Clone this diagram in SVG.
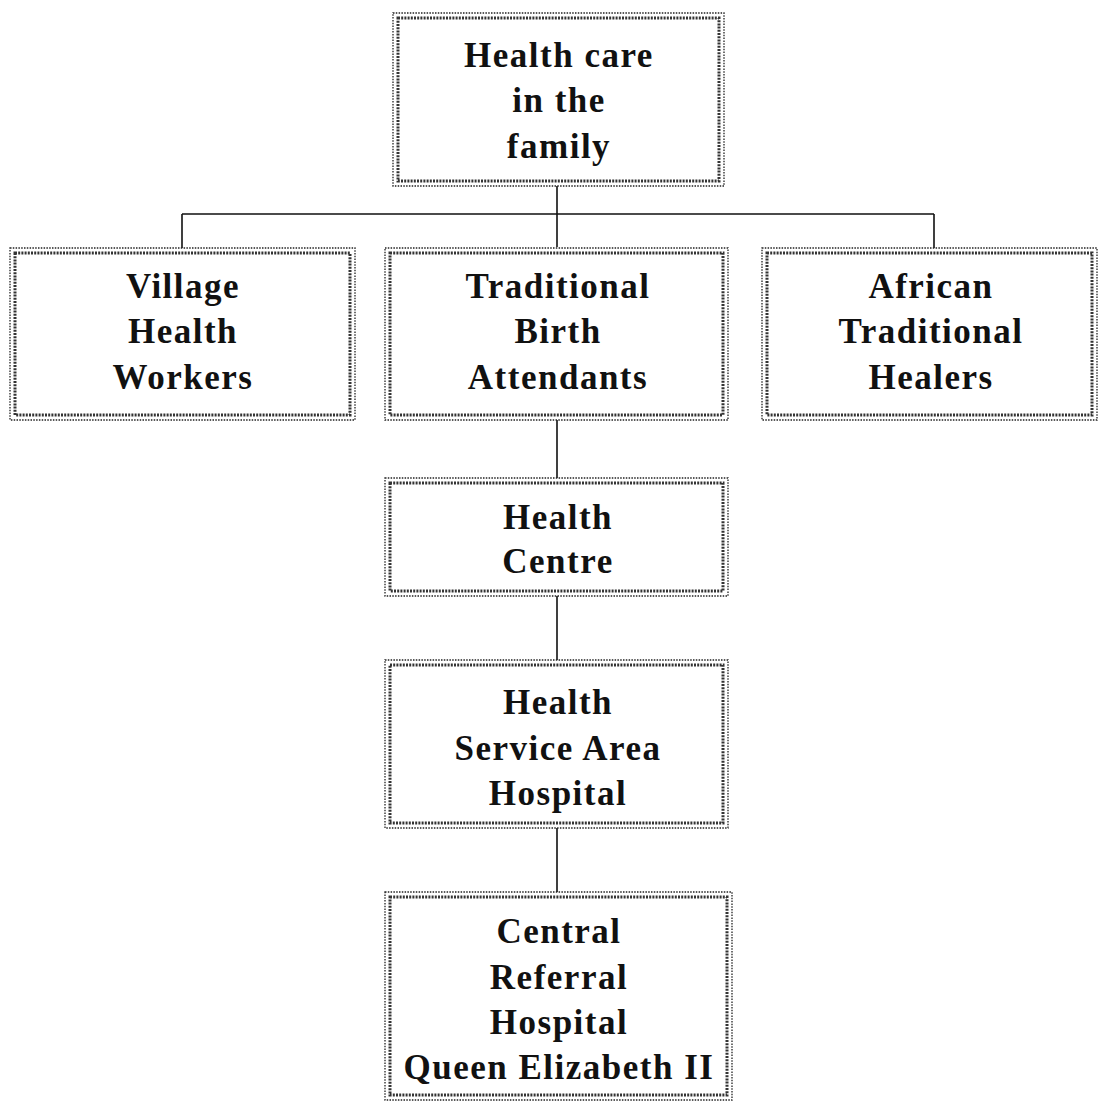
<svg xmlns="http://www.w3.org/2000/svg" width="1101" height="1105" viewBox="0 0 1101 1105">
<style>
.o{fill:none;stroke:#222;stroke-width:1.3;stroke-dasharray:1.5 1.3}
.i{fill:none;stroke:#333;stroke-width:3;stroke-dasharray:2 1.2}
.t{font-family:"Liberation Serif",serif;font-weight:bold;font-size:35px;letter-spacing:1.5px;fill:#111;text-anchor:middle}
.c{fill:none;stroke:#111;stroke-width:1.6}
</style>
<rect width="1101" height="1105" fill="#fff"/>
<g id="connectors">
<path class="c" d="M557 186V247M182 214H934M182 214V248M934 214V248M557 420V478M557 596V660M557 828V892"/>
</g>
<g id="n-family">
<rect class="o" x="393" y="13" width="331" height="173"/><rect class="i" x="398" y="18" width="321" height="163"/>
<text class="t" x="559" y="67">Health care</text><text class="t" x="559" y="112">in the</text><text class="t" x="559" y="158">family</text>
</g>
<g id="n-vhw">
<rect class="o" x="10" y="248" width="345" height="172"/><rect class="i" x="15" y="253" width="335" height="162"/>
<text class="t" x="183" y="298">Village</text><text class="t" x="183" y="343">Health</text><text class="t" x="183" y="389">Workers</text>
</g>
<g id="n-tba">
<rect class="o" x="385" y="248" width="343" height="172"/><rect class="i" x="390" y="253" width="333" height="162"/>
<text class="t" x="558" y="298">Traditional</text><text class="t" x="558" y="343">Birth</text><text class="t" x="558" y="389">Attendants</text>
</g>
<g id="n-ath">
<rect class="o" x="762" y="248" width="335" height="172"/><rect class="i" x="767" y="253" width="325" height="162"/>
<text class="t" x="931" y="298">African</text><text class="t" x="931" y="343">Traditional</text><text class="t" x="931" y="389">Healers</text>
</g>
<g id="n-hc">
<rect class="o" x="385" y="478" width="343" height="118"/><rect class="i" x="390" y="483" width="333" height="108"/>
<text class="t" x="558" y="529">Health</text><text class="t" x="558" y="573">Centre</text>
</g>
<g id="n-hsa">
<rect class="o" x="385" y="660" width="343" height="168"/><rect class="i" x="390" y="665" width="333" height="158"/>
<text class="t" x="558" y="714">Health</text><text class="t" x="558" y="760">Service Area</text><text class="t" x="558" y="805">Hospital</text>
</g>
<g id="n-crh">
<rect class="o" x="385" y="892" width="347" height="208"/><rect class="i" x="390" y="897" width="337" height="198"/>
<text class="t" x="559" y="943">Central</text><text class="t" x="559" y="989">Referral</text><text class="t" x="559" y="1034">Hospital</text><text class="t" x="559" y="1079">Queen Elizabeth II</text>
</g>
</svg>
